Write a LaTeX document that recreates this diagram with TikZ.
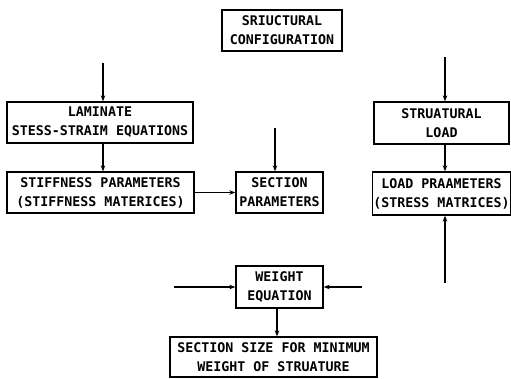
\documentclass[tikz,border=0pt]{standalone}
\usepackage{fontspec}
\setmonofont{DejaVu Sans Mono}
\usetikzlibrary{arrows.meta}
\begin{document}
\begin{tikzpicture}[x=1pt,y=-1pt,
  box/.style={draw,line width=1.3pt,inner sep=1pt,align=center,
    font=\fontsize{13.3}{19}\ttfamily\bfseries},
  arr/.style={line width=1.5pt,-{Stealth[length=6pt,width=4.5pt]}}]
\useasboundingbox (0,0) rectangle (511,378);
\node[box,minimum width=120pt,minimum height=41pt] (conf) at (282,30.5) {SRIUCTURAL\\CONFIGURATION};
\node[box,minimum width=186pt,minimum height=41pt] (lam) at (100,122.5) {LAMINATE\\STESS-STRAIM EQUATIONS};
\node[box,minimum width=187pt,minimum height=41pt] (stf) at (100.5,192.5) {STIFFNESS PARAMETERS\\(STIFFNESS MATERICES)};
\node[box,minimum width=87pt,minimum height=41pt] (sec) at (279.5,192.5) {SECTION\\PARAMETERS};
\node[box,minimum width=135pt,minimum height=42pt] (sl) at (441.5,123) {STRUATURAL\\LOAD};
\node[box,minimum width=137pt,minimum height=43pt] (lp) at (441.5,193.5) {LOAD PRAAMETERS\\(STRESS MATRICES)};
\node[box,minimum width=87pt,minimum height=42pt] (wt) at (279.5,287) {WEIGHT\\EQUATION};
\node[box,minimum width=207pt,minimum height=40pt] (ss) at (273.5,357) {SECTION SIZE FOR MINIMUM\\WEIGHT OF STRUATURE};
\coordinate (s1) at (103,63);
\coordinate (s2) at (275,128);
\coordinate (s3) at (445,57);
\coordinate (s4) at (445,283);
\coordinate (w1) at (174,287);
\coordinate (w2) at (362,287);
\coordinate (s5) at (277,320);
\draw[arr] (s1) -- (s1 |- lam.north);
\draw[arr] (lam.south -| s1) -- (s1 |- stf.north);
\draw[arr] (stf.east) -- (sec.west);
\draw[arr] (s2) -- (s2 |- sec.north);
\draw[arr] (s3) -- (s3 |- sl.north);
\draw[arr] (sl.south -| s3) -- (s3 |- lp.north);
\draw[arr] (s4) -- (s4 |- lp.south);
\draw[arr] (w1) -- (wt.west);
\draw[arr] (w2) -- (wt.east);
\draw[arr] (wt.south -| s5) -- (ss.north -| s5);
\end{tikzpicture}
\end{document}
